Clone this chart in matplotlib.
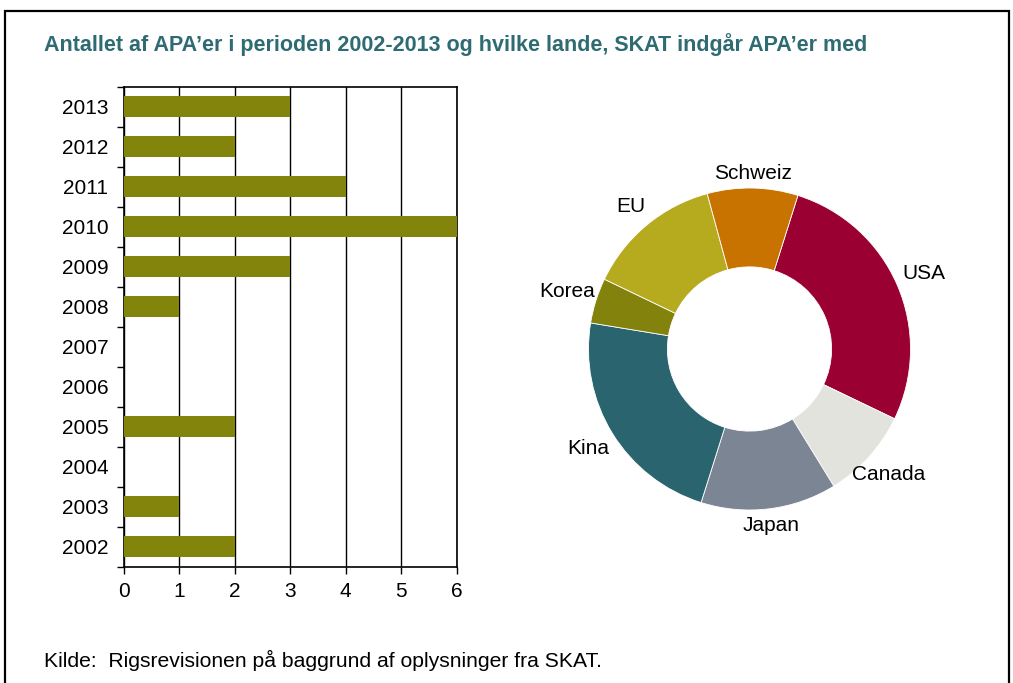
import numpy as np
import matplotlib
matplotlib.use('Agg')
import matplotlib.pyplot as plt
from matplotlib.patches import Rectangle

plt.rcParams['font.family'] = ['Liberation Sans', 'DejaVu Sans']

# bar chart data
years = ['2002', '2003', '2004', '2005', '2006', '2007', '2008', '2009', '2010', '2011', '2012', '2013']
apa_count = [2, 1, 0, 2, 0, 0, 1, 3, 6, 4, 2, 3]

# donut data (clockwise from USA)
countries = ['USA', 'Canada', 'Japan', 'Kina', 'Korea', 'EU', 'Schweiz']
country_count = [6, 2, 3, 5, 1, 3, 2]
country_colors = ['#9A0032', '#E3E3DD', '#7B8594', '#2A646E', '#82820C', '#B6AA1F', '#C87300']

title = 'Antallet af APA\u2019er i perioden 2002-2013 og hvilke lande, SKAT indgår APA\u2019er med'
source = 'Kilde:  Rigsrevisionen på baggrund af oplysninger fra SKAT.'

W, H = 1013, 683
fig = plt.figure(figsize=(W / 100, H / 100), dpi=100)

# frame around the figure
fig.patches.append(Rectangle((5 / W, -0.05), 1004 / W, 1.05 - 11 / H, transform=fig.transFigure,
                             fill=False, edgecolor='black', linewidth=1.6))

fig.text(44 / W, 1 - 45 / H, title, fontsize=15.5, fontweight='bold', color='#2E6B73',
         ha='left', va='center')
fig.text(44 / W, 1 - 660 / H, source, fontsize=15.2, color='black', ha='left', va='center')

# bar chart
ax = fig.add_axes([123.5 / W, 1 - 566.7 / H, 333.2 / W, 480 / H])
ypos = np.arange(len(years))
ax.barh(ypos, apa_count, height=0.52, color='#82840C', zorder=3)
ax.set_xlim(0, 6)
ax.set_ylim(-0.5, len(years) - 0.5)
ax.set_xticks(range(7))
ax.set_yticks(ypos)
ax.set_yticklabels(years)
ax.set_yticks(np.arange(-0.5, len(years), 1), minor=True)
ax.tick_params(axis='y', which='major', length=0, labelsize=15, pad=11)
ax.tick_params(axis='y', which='minor', length=5, width=1, direction='out')
ax.tick_params(axis='x', length=5, width=1, direction='out', labelsize=15, pad=6)
ax.grid(axis='x', color='black', linewidth=1, zorder=1)
for side in ['left', 'bottom', 'top', 'right']:
    ax.spines[side].set_color('black')
    ax.spines[side].set_linewidth(1.2)

# donut chart
R = 161
lim = 1.4
size = 2 * lim * R
cx, cy = 749.5, 349
ax2 = fig.add_axes([(cx - size / 2) / W, (H - cy - size / 2) / H, size / W, size / H])
wedges, _ = ax2.pie(country_count, colors=country_colors, startangle=72.5, counterclock=False,
                    wedgeprops=dict(width=0.49, edgecolor='white', linewidth=0.6))
for w, name in zip(wedges, countries):
    mid = np.deg2rad((w.theta1 + w.theta2) / 2)
    r = 1.09 + 0.1 * abs(np.cos(mid))
    ax2.text(r * np.cos(mid), r * np.sin(mid), name, ha='center', va='center', fontsize=15)
ax2.set_xlim(-lim, lim)
ax2.set_ylim(-lim, lim)
ax2.set_aspect('equal')
ax2.axis('off')

fig.savefig('out.png', dpi=100)
